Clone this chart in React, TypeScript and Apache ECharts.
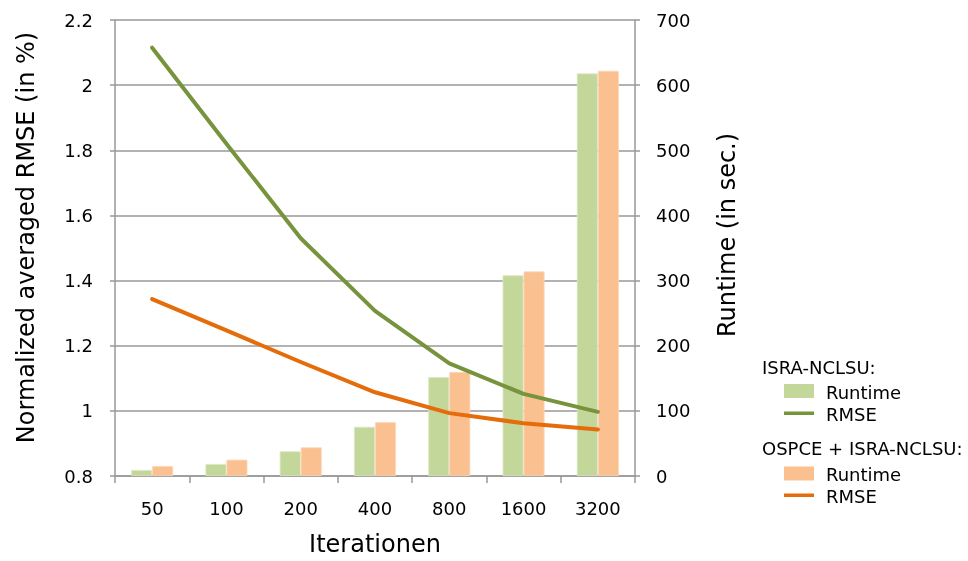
import React, { useEffect, useRef } from "react";
import * as echarts from "echarts";

const categories = ["50", "100", "200", "400", "800", "1600", "3200"];
const israRuntime = [9.2, 18.4, 37.9, 75.5, 151.8, 308, 618];
const ospceRuntime = [15.4, 25, 44, 82.6, 159.7, 314, 622];
const israRmse = [2.115, 1.82, 1.53, 1.307, 1.146, 1.052, 0.997];
const ospceRmse = [1.343, 1.247, 1.15, 1.057, 0.993, 0.962, 0.943];
const leftTicks = { min: 0.8, max: 2.2, interval: 0.2 };
const rightTicks = { min: 0, max: 700, interval: 100 };

const FONT = "DejaVu Sans";
const GREEN_BAR = "#C4D79B";
const GREEN_LINE = "#77933C";
const ORANGE_BAR = "#FAC090";
const ORANGE_LINE = "#E46C0A";
const AXIS_GRAY = "#999999";
const TEXT = "#000000";

export default function App() {
  const ref = useRef<HTMLDivElement>(null);
  useEffect(() => {
    if (!ref.current) return;
    const chart = echarts.init(ref.current, null, { renderer: "svg" });
    const legendText = (x: number, y: number, text: string) => ({
      type: "text",
      x,
      y,
      style: {
        text,
        fill: TEXT,
        font: `18px "${FONT}"`,
        align: "left",
        verticalAlign: "middle",
      },
    });
    chart.setOption({
      animation: false,
      textStyle: { fontFamily: FONT },
      grid: { left: 115, right: 333, top: 20, bottom: 85, containLabel: false },
      xAxis: {
        type: "category",
        data: categories,
        boundaryGap: true,
        name: "Iterationen",
        nameLocation: "middle",
        nameGap: 56,
        nameTextStyle: { fontSize: 24, color: TEXT, fontFamily: FONT },
        axisLine: { lineStyle: { color: AXIS_GRAY, width: 1.5 } },
        axisTick: { show: true, length: 7, alignWithLabel: false, lineStyle: { color: AXIS_GRAY, width: 1.5 } },
        axisLabel: { fontSize: 18, color: TEXT, margin: 23, fontFamily: FONT },
      },
      yAxis: [
        {
          type: "value",
          min: leftTicks.min,
          max: leftTicks.max,
          interval: leftTicks.interval,
          name: "Normalized averaged RMSE (in %)",
          nameLocation: "middle",
          nameGap: 77,
          nameTextStyle: { fontSize: 24, color: TEXT, fontFamily: FONT, padding: [0, 0, 0, 21] },
          axisLine: { show: true, lineStyle: { color: AXIS_GRAY, width: 1.5 } },
          axisTick: { show: true, length: 5, lineStyle: { color: AXIS_GRAY, width: 1.5 } },
          axisLabel: {
            fontSize: 18,
            color: TEXT,
            margin: 22,
            fontFamily: FONT,
            formatter: (v: number) => String(Math.round(v * 10) / 10),
          },
          splitLine: { show: true, lineStyle: { color: AXIS_GRAY, width: 1.5 } },
        },
        {
          type: "value",
          min: rightTicks.min,
          max: rightTicks.max,
          interval: rightTicks.interval,
          name: "Runtime (in sec.)",
          nameLocation: "middle",
          nameGap: 80,
          nameTextStyle: { fontSize: 24, color: TEXT, fontFamily: FONT, padding: [0, 0, 0, 26] },
          axisLine: { show: true, lineStyle: { color: AXIS_GRAY, width: 1.5 } },
          axisTick: { show: true, length: 5, lineStyle: { color: AXIS_GRAY, width: 1.5 } },
          axisLabel: { fontSize: 18, color: TEXT, margin: 21, fontFamily: FONT },
          splitLine: { show: false },
        },
      ],
      series: [
        {
          name: "ISRA-NCLSU: Runtime",
          type: "bar",
          yAxisIndex: 1,
          data: israRuntime,
          barWidth: 21,
          barGap: "0%",
          itemStyle: { color: GREEN_BAR, borderColor: "#DCE8C4", borderWidth: 0.8 },
          z: 1,
        },
        {
          name: "OSPCE + ISRA-NCLSU: Runtime",
          type: "bar",
          yAxisIndex: 1,
          data: ospceRuntime,
          barWidth: 21,
          barGap: "0%",
          itemStyle: { color: ORANGE_BAR, borderColor: "#FCD8BA", borderWidth: 0.8 },
          z: 1,
        },
        {
          name: "ISRA-NCLSU: RMSE",
          type: "line",
          yAxisIndex: 0,
          data: israRmse,
          showSymbol: false,
          symbol: "none",
          lineStyle: { color: GREEN_LINE, width: 4, cap: "round", join: "round" },
          itemStyle: { color: GREEN_LINE },
          z: 3,
        },
        {
          name: "OSPCE + ISRA-NCLSU: RMSE",
          type: "line",
          yAxisIndex: 0,
          data: ospceRmse,
          showSymbol: false,
          symbol: "none",
          lineStyle: { color: ORANGE_LINE, width: 4, cap: "round", join: "round" },
          itemStyle: { color: ORANGE_LINE },
          z: 3,
        },
      ],
      graphic: [
        legendText(762, 367, "ISRA-NCLSU:"),
        { type: "rect", shape: { x: 784, y: 384, width: 30, height: 14 }, style: { fill: GREEN_BAR } },
        legendText(826, 392, "Runtime"),
        { type: "rect", shape: { x: 784, y: 411.5, width: 30, height: 3.5 }, style: { fill: GREEN_LINE } },
        legendText(826, 414, "RMSE"),
        legendText(762, 448, "OSPCE + ISRA-NCLSU:"),
        { type: "rect", shape: { x: 784, y: 466.5, width: 30, height: 14 }, style: { fill: ORANGE_BAR } },
        legendText(826, 474, "Runtime"),
        { type: "rect", shape: { x: 784, y: 493.5, width: 30, height: 3.5 }, style: { fill: ORANGE_LINE } },
        legendText(826, 496, "RMSE"),
      ],
    });
    return () => chart.dispose();
  }, []);
  return <div ref={ref} style={{ position: "fixed", left: 0, top: 0, width: 968, height: 561 }} />;
}
